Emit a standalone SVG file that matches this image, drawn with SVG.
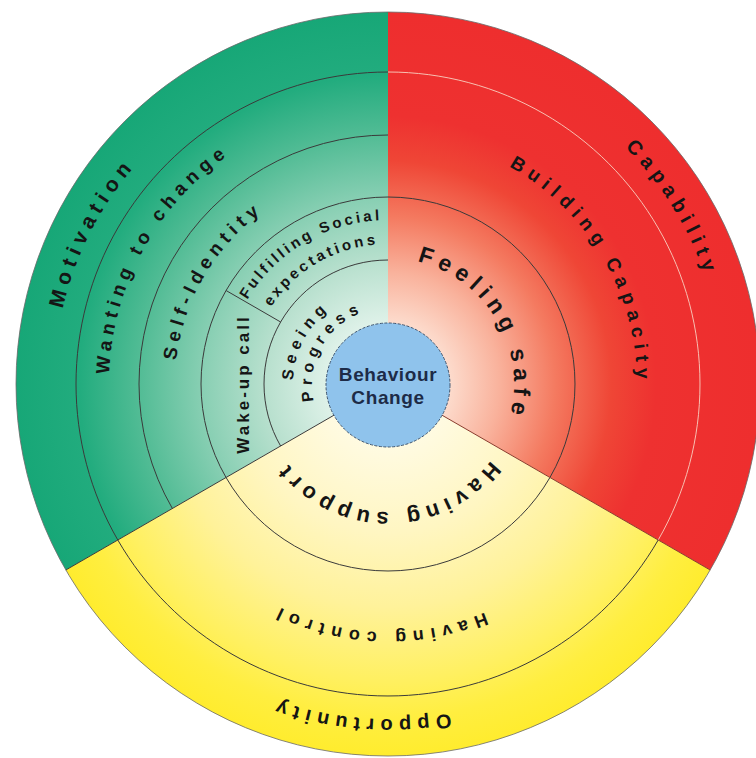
<svg xmlns="http://www.w3.org/2000/svg" width="756" height="758" viewBox="0 0 756 758">
<style>
.lbl{font-family:"Liberation Sans",Arial,sans-serif;font-weight:bold;fill:#151515;}
.ring{fill:none;stroke:#3a3a3a;stroke-width:1;}
.ringL{fill:none;stroke:#f8c0b2;stroke-width:1;}
.div{stroke:#3a3a3a;stroke-width:1;fill:none;}
</style>
<defs>
<radialGradient id="gG" gradientUnits="userSpaceOnUse" cx="388" cy="384" r="372">
<stop offset="0.15" stop-color="#e2f3eb"/>
<stop offset="0.33" stop-color="#b8e0ce"/>
<stop offset="0.5" stop-color="#88cfb3"/>
<stop offset="0.67" stop-color="#52bc95"/>
<stop offset="0.83" stop-color="#22ac7e"/>
<stop offset="1" stop-color="#17a777"/>
</radialGradient>
<radialGradient id="gR" gradientUnits="userSpaceOnUse" cx="388" cy="384" r="372">
<stop offset="0.15" stop-color="#fde0d2"/>
<stop offset="0.3" stop-color="#f9b29c"/>
<stop offset="0.45" stop-color="#f47a60"/>
<stop offset="0.6" stop-color="#ef4636"/>
<stop offset="0.72" stop-color="#ee3130"/>
<stop offset="1" stop-color="#ee2e2e"/>
</radialGradient>
<radialGradient id="gY" gradientUnits="userSpaceOnUse" cx="388" cy="384" r="372">
<stop offset="0.15" stop-color="#fffbe4"/>
<stop offset="0.4" stop-color="#fff6c2"/>
<stop offset="0.6" stop-color="#fff29a"/>
<stop offset="0.8" stop-color="#fff060"/>
<stop offset="0.9" stop-color="#ffee40"/>
<stop offset="1" stop-color="#ffec2e"/>
</radialGradient>
<path id="a334" d="M55.27,354.89 A334,334 0 0 1 720.73,354.89"/>
<path id="a335" d="M54.27,354.8 A335,335 0 0 1 721.73,354.8"/>
<path id="a279" d="M110.06,359.68 A279,279 0 0 1 665.94,359.68"/>
<path id="a213" d="M175.81,365.43 A213,213 0 0 1 600.19,365.43"/>
<path id="a164" d="M224.62,369.71 A164,164 0 0 1 551.38,369.71"/>
<path id="a140" d="M248.53,371.8 A140,140 0 0 1 527.47,371.8"/>
<path id="a95" d="M293.36,375.72 A95,95 0 0 1 482.64,375.72"/>
<path id="a76" d="M312.29,377.38 A76,76 0 0 1 463.71,377.38"/>
<path id="a126" d="M262.48,373.02 A126,126 0 0 1 513.52,373.02"/>
<path id="a249" d="M139.95,362.3 A249,249 0 0 1 636.05,362.3"/>
<path id="a128" d="M260.49,372.84 A128,128 0 0 1 515.51,372.84"/>
<path id="a248" d="M140.94,362.38 A248,248 0 0 1 635.06,362.38"/>
</defs>
<rect width="756" height="758" fill="#ffffff"/>
<g id="sector-motivation">
<path d="M388,384 L388,12 A372,372 0 0 0 65.84,570 Z" fill="url(#gG)"/>
</g>
<g id="sector-capability">
<path d="M388,384 L388,12 A372,372 0 0 1 710.16,570 Z" fill="url(#gR)"/>
</g>
<g id="sector-opportunity">
<path d="M388,384 L710.16,570 A372,372 0 0 1 65.84,570 Z" fill="url(#gY)"/>
</g>
<g id="connectors">
<path class="ring" d="M388,72 A312,312 0 0 0 117.81,540"/>
<path class="ring" d="M388,135 A249,249 0 0 0 172.37,508.5"/>
<path class="ring" d="M388,197 A187,187 0 0 0 226.06,477.5"/>
<path class="ring" d="M388,260 A124,124 0 0 0 280.62,446"/>
<path class="ringL" d="M388,72 A312,312 0 0 1 658.19,540"/>
<path class="ring" d="M388,197 A187,187 0 0 1 549.94,477.5"/>
<path class="ring" d="M658.19,540 A312,312 0 0 1 117.81,540"/>
<path class="ring" d="M549.94,477.5 A187,187 0 0 1 226.06,477.5"/>
<line class="div" x1="280.61" y1="322" x2="226.06" y2="290.5"/>
<line class="div" x1="334.3" y1="415" x2="65.84" y2="570"/>
<line x1="441.7" y1="415" x2="710.16" y2="570" stroke="#8a3b2c" stroke-width="1"/>
<circle cx="388" cy="384" r="372" fill="none" stroke="#6a6a6a" stroke-width="0.8"/>
</g>
<g id="node-motivation"><text class="lbl" font-size="21" letter-spacing="5.8" transform="rotate(-63 388 384)"><textPath href="#a334" startOffset="50%" text-anchor="middle">Motivation</textPath></text></g>
<g id="node-wanting"><text class="lbl" font-size="19" letter-spacing="5.4" transform="rotate(-61.2 388 384)"><textPath href="#a279" startOffset="50%" text-anchor="middle">Wanting to change</textPath></text></g>
<g id="node-selfidentity"><text class="lbl" font-size="19" letter-spacing="5.4" transform="rotate(-59.6 388 384)"><textPath href="#a213" startOffset="50%" text-anchor="middle">Self-Identity</textPath></text></g>
<g id="node-fulfilling">
<text class="lbl" font-size="15" letter-spacing="3.1" transform="rotate(-30.5 388 384)"><textPath href="#a164" startOffset="50%" text-anchor="middle">Fulfilling Social</textPath></text>
<text class="lbl" font-size="15" letter-spacing="3.1" transform="rotate(-30.25 388 384)"><textPath href="#a140" startOffset="50%" text-anchor="middle">expectations</textPath></text>
</g>
<g id="node-wakeup"><text class="lbl" font-size="17" letter-spacing="3" text-anchor="middle" transform="translate(249 384) rotate(-90)">Wake-up call</text></g>
<g id="node-seeing">
<text class="lbl" font-size="16" letter-spacing="5.3" transform="rotate(-62.5 388 384)"><textPath href="#a95" startOffset="50%" text-anchor="middle">Seeing</textPath></text>
<text class="lbl" font-size="16" letter-spacing="5.4" transform="rotate(-60.5 388 384)"><textPath href="#a76" startOffset="50%" text-anchor="middle">Progress</textPath></text>
</g>
<g id="node-capability"><text class="lbl" font-size="20" letter-spacing="6" transform="rotate(58.3 388 384)"><textPath href="#a335" startOffset="50%" text-anchor="middle">Capability</textPath></text></g>
<g id="node-building"><text class="lbl" font-size="19" letter-spacing="6.2" transform="rotate(59.65 388 384)"><textPath href="#a249" startOffset="50%" text-anchor="middle">Building Capacity</textPath></text></g>
<g id="node-feeling"><text class="lbl" font-size="23" letter-spacing="5.9" transform="rotate(59.75 388 384)"><textPath href="#a126" startOffset="50%" text-anchor="middle">Feeling safe</textPath></text></g>
<g id="node-support"><text class="lbl" font-size="22" letter-spacing="5.5" transform="rotate(180.15 388 384)"><textPath href="#a128" startOffset="50%" text-anchor="middle">Having support</textPath></text></g>
<g id="node-control"><text class="lbl" font-size="18" letter-spacing="6.5" transform="rotate(182.1 388 384)"><textPath href="#a248" startOffset="50%" text-anchor="middle">Having control</textPath></text></g>
<g id="node-opportunity"><text class="lbl" font-size="20" letter-spacing="6" transform="rotate(184.7 388 384)"><textPath href="#a335" startOffset="50%" text-anchor="middle">Opportunity</textPath></text></g>
<g id="node-behaviour">
<circle cx="388" cy="385" r="62" fill="#8fc3ec" stroke="#3e5570" stroke-width="1" stroke-dasharray="3 1.5"/>
<text font-family="Liberation Sans,Arial,sans-serif" font-weight="bold" font-size="19" letter-spacing="0.6" fill="#1d2b47" text-anchor="middle" x="388" y="381">Behaviour</text>
<text font-family="Liberation Sans,Arial,sans-serif" font-weight="bold" font-size="19" letter-spacing="0.6" fill="#1d2b47" text-anchor="middle" x="388" y="404">Change</text>
</g>
</svg>
